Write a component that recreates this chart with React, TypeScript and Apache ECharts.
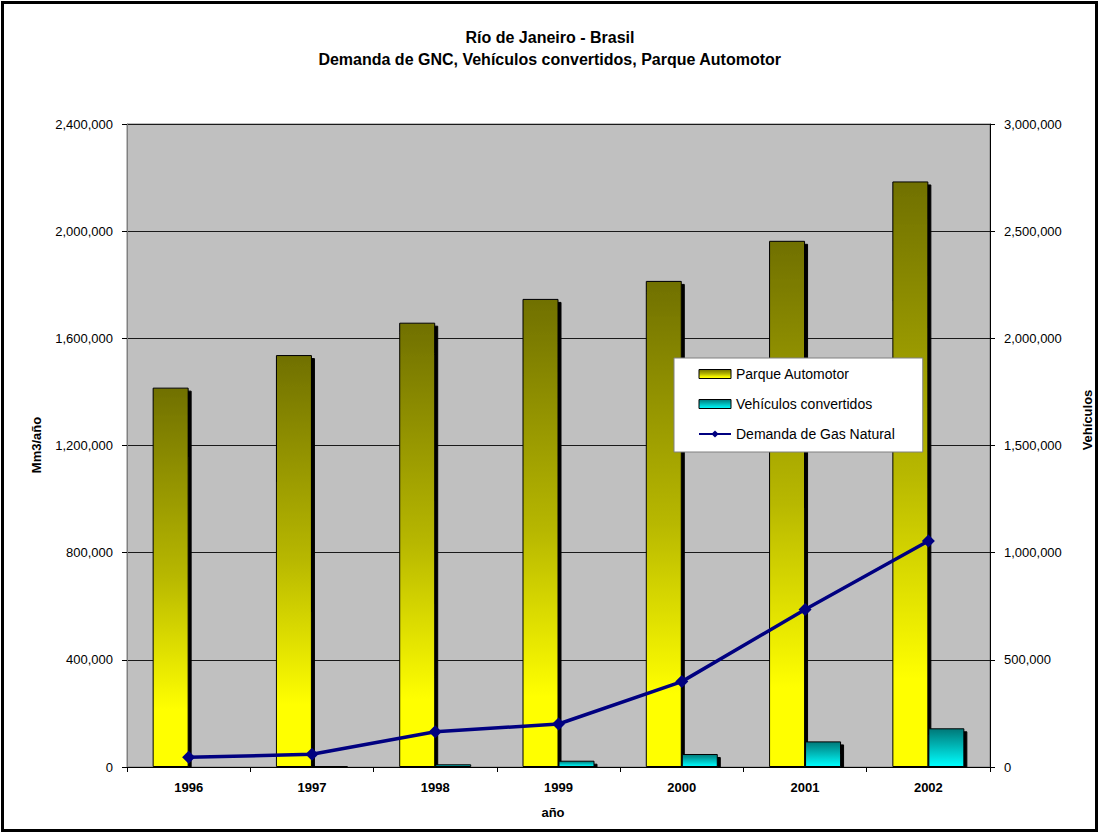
import React, { useEffect, useRef } from "react";
import * as echarts from "echarts";

const years = ["1996", "1997", "1998", "1999", "2000", "2001", "2002"];
const parqueAutomotor = [1770000, 1922000, 2073000, 2184000, 2268000, 2455000, 2732000];
const vehiculosConvertidos = [2000, 5000, 12600, 29400, 60700, 119500, 180600];
const demandaGas = [36200, 47400, 131700, 160500, 318700, 587800, 843400];

const titleLines = ["Río de Janeiro - Brasil", "Demanda de GNC, Vehículos convertidos, Parque Automotor"];
const FONT = "Arial, 'Liberation Sans', Helvetica, sans-serif";

const fmt = (v: number) => v.toLocaleString("en-US");

export default function App() {
  const ref = useRef<HTMLDivElement>(null);
  useEffect(() => {
    if (!ref.current) return;
    const chart = echarts.init(ref.current, null, { renderer: "svg" });
    const yellowGrad = new echarts.graphic.LinearGradient(0, 0, 0, 1, [
      { offset: 0, color: "#707000" },
      { offset: 0.5, color: "#b8b800" },
      { offset: 0.85, color: "#ffff00" },
      { offset: 1, color: "#ffff00" },
    ]);
    const cyanGrad = new echarts.graphic.LinearGradient(0, 0, 0, 1, [
      { offset: 0, color: "#007878" },
      { offset: 1, color: "#00ffff" },
    ]);
    const noShadow = { shadowBlur: 0, shadowOffsetX: 0, shadowOffsetY: 0, shadowColor: "transparent" };
    chart.setOption({
      animation: false,
      backgroundColor: "#ffffff",
      textStyle: { fontFamily: FONT },
      grid: {
        left: 127,
        top: 124,
        width: 863,
        height: 643,
        show: true,
        backgroundColor: "#c0c0c0",
        borderColor: "#808080",
        borderWidth: 1,
      },
      legend: {
        orient: "vertical",
        left: 674,
        top: 358,
        backgroundColor: "#ffffff",
        borderColor: "#808080",
        borderWidth: 1,
        padding: [8, 28, 10, 24],
        itemWidth: 32,
        itemHeight: 9,
        itemGap: 14,
        textStyle: { fontSize: 14, color: "#000", fontFamily: FONT, lineHeight: 16 },
        data: [
          { name: "Parque Automotor", icon: "rect", itemStyle: { borderColor: "#000", borderWidth: 1, ...noShadow } },
          { name: "Vehículos convertidos", icon: "rect", itemStyle: { borderColor: "#000", borderWidth: 1, ...noShadow } },
          { name: "Demanda de Gas Natural" },
        ],
      },
      xAxis: {
        type: "category",
        data: years,
        z: 10,
        axisLine: { lineStyle: { color: "#000", width: 1 } },
        axisTick: { show: true, length: 5, lineStyle: { color: "#000" } },
        axisLabel: { color: "#000", fontSize: 13, fontWeight: "bold", margin: 14, fontFamily: FONT },
      },
      yAxis: [
        {
          type: "value",
          min: 0,
          max: 2400000,
          interval: 400000,
          position: "left",
          axisLine: { show: true, lineStyle: { color: "#808080" } },
          axisTick: { show: true, length: 5, lineStyle: { color: "#000" } },
          axisLabel: { color: "#000", fontSize: 13, margin: 14, formatter: fmt, fontFamily: FONT },
          splitLine: { show: true, lineStyle: { color: "#1a1a1a", width: 1 } },
        },
        {
          type: "value",
          min: 0,
          max: 3000000,
          interval: 500000,
          position: "right",
          axisLine: { show: true, lineStyle: { color: "#000" } },
          axisTick: { show: true, length: 5, lineStyle: { color: "#000" } },
          axisLabel: { color: "#000", fontSize: 13, margin: 14, formatter: fmt, fontFamily: FONT },
          splitLine: { show: false },
        },
      ],
      series: [
        {
          name: "Parque Automotor",
          type: "bar",
          yAxisIndex: 1,
          data: parqueAutomotor,
          barWidth: 36,
          barGap: "0%",
          itemStyle: {
            color: yellowGrad,
            borderColor: "#000",
            borderWidth: 1,
            shadowColor: "#000",
            shadowBlur: 0,
            shadowOffsetX: 3,
            shadowOffsetY: 3,
          },
          z: 2,
        },
        {
          name: "Vehículos convertidos",
          type: "bar",
          yAxisIndex: 1,
          data: vehiculosConvertidos,
          barWidth: 36,
          barGap: "0%",
          itemStyle: {
            color: cyanGrad,
            borderColor: "#000",
            borderWidth: 1,
            shadowColor: "#000",
            shadowBlur: 0,
            shadowOffsetX: 3,
            shadowOffsetY: 3,
          },
          z: 2,
        },
        {
          name: "Demanda de Gas Natural",
          type: "line",
          yAxisIndex: 0,
          data: demandaGas,
          symbol: "diamond",
          symbolSize: 13,
          itemStyle: { color: "#000080" },
          lineStyle: { color: "#000080", width: 3.5 },
          z: 5,
        },
      ],
      graphic: [
        {
          type: "rect",
          shape: { x: 128, y: 768, width: 870, height: 4 },
          style: { fill: "#ffffff" },
          z: 4,
        },
        {
          type: "text",
          left: "center",
          top: 29,
          style: { text: titleLines[0], font: `bold 16px ${FONT}`, fill: "#000" },
        },
        {
          type: "text",
          left: "center",
          top: 51,
          style: { text: titleLines[1], font: `bold 16px ${FONT}`, fill: "#000" },
        },
        {
          type: "text",
          x: 553,
          y: 812,
          style: { text: "año", font: `bold 13px ${FONT}`, fill: "#000", align: "center", verticalAlign: "middle" },
        },
        {
          type: "text",
          x: 36,
          y: 445,
          rotation: Math.PI / 2,
          style: { text: "Mm3/año", font: `bold 13px ${FONT}`, fill: "#000", align: "center", verticalAlign: "middle" },
        },
        {
          type: "text",
          x: 1087,
          y: 420,
          rotation: Math.PI / 2,
          style: { text: "Vehículos", font: `bold 13px ${FONT}`, fill: "#000", align: "center", verticalAlign: "middle" },
        },
        {
          type: "rect",
          shape: { x: 2.5, y: 2.5, width: 1094, height: 828 },
          style: { fill: "none", stroke: "#000", lineWidth: 3 },
          z: 100,
        },
      ],
    });
    return () => chart.dispose();
  }, []);
  return (
    <div
      ref={ref}
      style={{ position: "fixed", left: 0, top: 0, width: 1100, height: 834 }}
    />
  );
}
